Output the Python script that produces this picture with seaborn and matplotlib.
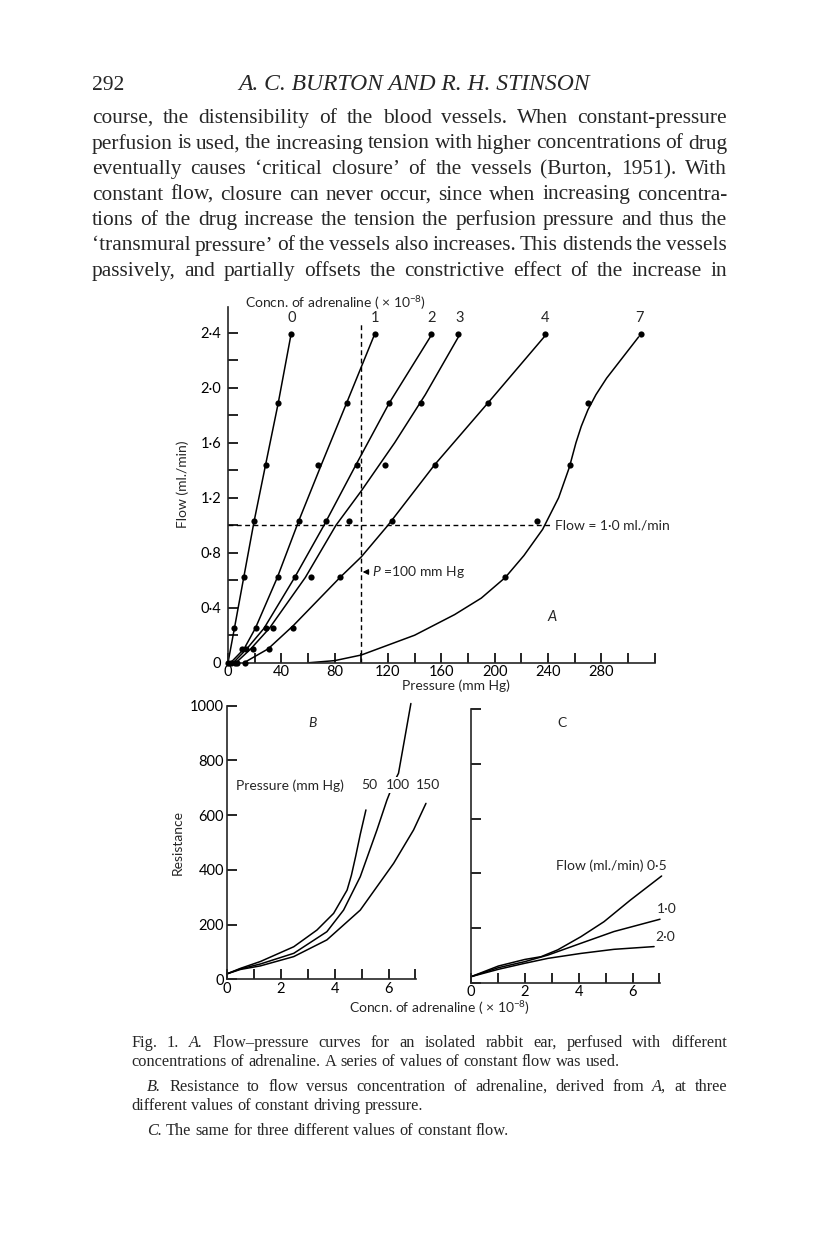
import numpy as np
import pandas as pd
import seaborn as sns
import matplotlib
matplotlib.use("Agg")
from matplotlib import pyplot as plt
from matplotlib.transforms import IdentityTransform

# ---------------- panel A: measured points (constant flow levels) ----------------
flow_levels = [0.0, 0.10, 0.25, 0.62, 1.03, 1.44, 1.89, 2.39]
press_c0 = [0, np.nan, 4.8, 11.8, 19.6, 28.2, 37.7, 47.5]
press_c1 = [2, 10.8, 20.9, 37.5, 53.1, 67.2, 89.3, 110]
press_c2 = [5, 13.8, 28.4, 50.6, 73.5, 96.4, 120.8, 152.5]
press_c3 = [7, 18.9, 34.0, 62.4, 90.6, 117.5, 144.7, 172.3]
press_c4 = [12.6, 30.7, 49.0, 84.3, 123.0, 155.5, 195.2, 237.5]
press_c7 = [np.nan, np.nan, np.nan, 208.0, 231.7, 256.4, 269.7, 309.7]
conc_labels = ["0", "1", "2", "3", "4", "7"]
conc_label_x = [48, 110, 153, 174, 238, 309]

# fitted curves of panel A (pressure, flow knots)
fit_c0_p = [0, 4.8, 11.8, 19.6, 28.2, 37.7, 47.5]
fit_c0_f = [0, 0.25, 0.62, 1.03, 1.44, 1.89, 2.40]
fit_c1_p = [2, 12, 20.5, 37, 53, 70, 89, 110]
fit_c1_f = [0, 0.10, 0.25, 0.62, 1.03, 1.44, 1.89, 2.39]
fit_c2_p = [4, 14, 27, 50, 72, 96, 121, 153]
fit_c2_f = [0, 0.10, 0.25, 0.62, 1.0, 1.44, 1.89, 2.39]
fit_c3_p = [6, 17, 31, 58, 81, 100, 125, 148, 174]
fit_c3_f = [0, 0.10, 0.25, 0.62, 1.0, 1.25, 1.60, 1.95, 2.39]
fit_c4_p = [12, 30, 49, 84, 100, 120, 155, 195, 238]
fit_c4_f = [0, 0.10, 0.27, 0.62, 0.77, 1.0, 1.44, 1.89, 2.38]
fit_c7_p = [61, 80, 100, 140, 170, 190, 208, 222, 236, 248, 256, 261, 265, 270, 276, 284, 296, 308]
fit_c7_f = [0, 0.015, 0.056, 0.20, 0.35, 0.47, 0.62, 0.78, 0.97, 1.20, 1.42, 1.60, 1.72, 1.84, 1.95, 2.07, 2.22, 2.37]

flow_ref = 1.0
press_ref = 100

# ---------------- panel B: resistance vs concentration at constant pressure ----------------
b50_c = [0, 0.5, 1.24, 2.48, 3.34, 3.96, 4.46, 4.62, 4.78, 4.95, 5.16]
b50_r = [20, 40, 65, 119, 180, 241, 326, 380, 450, 530, 619]
b100_c = [0, 0.5, 1.24, 2.48, 3.71, 4.33, 4.95, 5.57, 5.94, 6.20, 6.37, 6.60, 6.83]
b100_r = [20, 38, 56, 95, 174, 253, 375, 546, 655, 720, 753, 880, 1008]
b150_c = [0, 0.5, 1.24, 2.48, 3.71, 4.95, 6.19, 6.93, 7.39]
b150_r = [20, 36, 49, 83, 144, 253, 424, 546, 643]

# ---------------- panel C: resistance vs concentration at constant flow ----------------
c05_c = [0, 1.02, 2.0, 2.6, 3.22, 4.08, 4.94, 5.92, 7.08]
c05_r = [22, 61, 85, 95, 120, 168, 223, 302, 390]
c10_c = [0, 1.02, 2.0, 2.86, 4.08, 5.31, 7.02]
c10_r = [22, 55, 77, 101, 144, 187, 232]
c20_c = [0, 1.02, 2.0, 2.86, 4.08, 5.31, 6.8]
c20_r = [22, 49, 71, 89, 107, 122, 132]

# ---------------- page text ----------------
page_number = "292"
running_head = "A. C. BURTON AND R. H. STINSON"
body_lines = [
    "course, the distensibility of the blood vessels. When constant-pressure",
    "perfusion is used, the increasing tension with higher concentrations of drug",
    "eventually causes \u2018critical closure\u2019 of the vessels (Burton, 1951). With",
    "constant flow, closure can never occur, since when increasing concentra-",
    "tions of the drug increase the tension the perfusion pressure and thus the",
    "\u2018transmural pressure\u2019 of the vessels also increases. This distends the vessels",
    "passively, and partially offsets the constrictive effect of the increase in",
]
caption_lines = [
    ("Fig. 1. _A. Flow\u2013pressure curves for an isolated rabbit ear, perfused with different", 131, True),
    ("concentrations of adrenaline.  A series of values of constant flow was used.", 131, False),
    ("_B. Resistance to flow versus concentration of adrenaline, derived from _A, at three", 147, True),
    ("different values of constant driving pressure.", 131, False),
    ("_C. The same for three different values of constant flow.", 147, False),
]

W, H = 816, 1258
sns.set_style("ticks")
plt.rcParams["font.family"] = ["Lato", "DejaVu Sans"]
plt.rcParams["mathtext.fontset"] = "custom"
plt.rcParams["mathtext.rm"] = "Lato"
plt.rcParams["mathtext.it"] = "Lato:italic"
plt.rcParams["axes.linewidth"] = 1.2

fig = plt.figure(figsize=(W / 100, H / 100), dpi=100)


def rect(x0, y_base, w, h):
    return [x0 / W, (H - y_base) / H, w / W, h / H]


LW = 1.1
FS = 10
TICK = dict(direction="in", length=7, width=1.2, labelsize=10.5, colors="black")

# ---- panel A ----
axA = fig.add_axes(rect(228, 662.7, 426.6, 356))
pts = []
for lab, pr in zip(conc_labels, [press_c0, press_c1, press_c2, press_c3, press_c4, press_c7]):
    for p, f in zip(pr, flow_levels):
        if not np.isnan(p):
            pts.append((lab, p, f))
pts = pd.DataFrame(pts, columns=["conc", "pressure", "flow"])

fits = []
for lab, pp, ff in zip(conc_labels,
                       [fit_c0_p, fit_c1_p, fit_c2_p, fit_c3_p, fit_c4_p, fit_c7_p],
                       [fit_c0_f, fit_c1_f, fit_c2_f, fit_c3_f, fit_c4_f, fit_c7_f]):
    for p, f in zip(pp, ff):
        fits.append((lab, p, f))
fits = pd.DataFrame(fits, columns=["conc", "pressure", "flow"])

sns.lineplot(data=fits, x="pressure", y="flow", units="conc", estimator=None, sort=False,
             color="black", lw=LW, ax=axA)
sns.scatterplot(data=pts, x="pressure", y="flow", color="black", s=20, linewidth=0,
                ax=axA, legend=False, clip_on=False, zorder=3)

dash = (0, (3.5, 2.5))
axA.plot([0, 244], [flow_ref, flow_ref], color="black", lw=1.0, ls=dash)
axA.plot([press_ref, press_ref], [0, 2.48], color="black", lw=1.0, ls=dash)
axA.text(245, flow_ref, "Flow = 1\u00b70 ml./min", fontsize=FS, va="center", ha="left")
axA.annotate("$P$ =100 mm Hg", xy=(press_ref + 1, 0.66), xytext=(108, 0.66),
             fontsize=FS, va="center", ha="left",
             arrowprops=dict(arrowstyle="-|>", color="black", lw=0.9, mutation_scale=8,
                             shrinkA=0, shrinkB=0))
for lab, x in zip(conc_labels, conc_label_x):
    axA.text(x, 2.46, lab, fontsize=10.5, ha="center", va="bottom")
axA.text(81, 2.615, "Concn. of adrenaline ( \u00d7 10$^{-8}$)", fontsize=FS,
         ha="center", va="center")
axA.text(243, 0.335, "A", fontsize=10.5, ha="center", va="center", style="italic")

axA.set_xlim(0, 320)
axA.set_ylim(0, 2.59)
xt = np.arange(0, 321, 20)
axA.set_xticks(xt)
axA.set_xticklabels([str(v) if v % 40 == 0 and v <= 280 else "" for v in xt])
yt = np.round(np.arange(0, 2.41, 0.2), 1)
axA.set_yticks(yt)
axA.set_yticklabels(["0" if v == 0 else (f"{v:.1f}".replace(".", "\u00b7") if round(v * 10) % 4 == 0 else "")
                     for v in yt])
axA.tick_params(**TICK)
axA.tick_params(axis="x", pad=2)
axA.tick_params(axis="y", pad=5)
axA.set_xlabel("")
axA.set_ylabel("Flow (ml./min)", fontsize=FS, labelpad=8)
axA.text(171, -0.17, "Pressure (mm Hg)", fontsize=FS, ha="center", va="center")
sns.despine(ax=axA)

# ---- panel B ----
axB = fig.add_axes(rect(227, 979.3, 189, 273.6))
bdf = pd.DataFrame({
    "conc": b50_c + b100_c + b150_c,
    "res": b50_r + b100_r + b150_r,
    "pressure": ["50"] * len(b50_c) + ["100"] * len(b100_c) + ["150"] * len(b150_c),
})
sns.lineplot(data=bdf, x="conc", y="res", units="pressure", estimator=None, sort=False,
             color="black", lw=LW, ax=axB, clip_on=False)
axB.text(0.35, 709, "Pressure (mm Hg)", fontsize=FS, ha="left", va="center")
for lab, x in zip(["50", "100", "150"], [5.3, 6.35, 7.45]):
    axB.text(x, 709, lab, fontsize=FS, ha="center", va="center",
             bbox=dict(facecolor="white", edgecolor="none", pad=1.5))
axB.text(3.16, 935, "B", fontsize=FS, ha="center", va="center", style="italic")
axB.set_xlim(0, 7.02)
axB.set_ylim(0, 1000)
axB.set_xticks(range(0, 8))
axB.set_xticklabels(["0", "", "2", "", "4", "", "6", ""])
axB.set_yticks(range(0, 1001, 200))
axB.set_yticklabels([str(v) for v in range(0, 1001, 200)])
axB.tick_params(**TICK)
axB.tick_params(axis="x", pad=2)
axB.tick_params(axis="y", pad=2)
axB.set_xlabel("")
axB.set_ylabel("Resistance", fontsize=FS, labelpad=5)
sns.despine(ax=axB)

# ---- panel C ----
axC = fig.add_axes(rect(471, 982.7, 189, 273.6))
cdf = pd.DataFrame({
    "conc": c05_c + c10_c + c20_c,
    "res": c05_r + c10_r + c20_r,
    "flow": ["0.5"] * len(c05_c) + ["1.0"] * len(c10_c) + ["2.0"] * len(c20_c),
})
sns.lineplot(data=cdf, x="conc", y="res", units="flow", estimator=None, sort=False,
             color="black", lw=LW, ax=axC, clip_on=False)
axC.text(3.15, 428, "Flow (ml./min) 0\u00b75", fontsize=FS, ha="left", va="center")
axC.text(7.27, 270, "1\u00b70", fontsize=FS, ha="center", va="center")
axC.text(7.2, 166, "2\u00b70", fontsize=FS, ha="center", va="center")
axC.text(3.38, 949, "C", fontsize=FS, ha="center", va="center")
axC.set_xlim(0, 7.02)
axC.set_ylim(0, 1000)
axC.set_xticks(range(0, 8))
axC.set_xticklabels(["0", "", "2", "", "4", "", "6", ""])
axC.set_yticks(range(0, 1001, 200))
axC.set_yticklabels([])
axC.tick_params(**TICK)
axC.tick_params(axis="x", pad=2)
axC.set_xlabel("")
axC.set_ylabel("")
sns.despine(ax=axC)

fig.text(440 / W, 1 - 1008 / H, "Concn. of adrenaline ( \u00d7 10$^{-8}$)", fontsize=FS,
         ha="center", va="center")

# ---------------- page text (justified) ----------------
renderer = fig.canvas.get_renderer()
SERIF = ["Liberation Serif", "DejaVu Serif"]


def measure(s, size, style="normal"):
    t = fig.text(0, 0, s, fontsize=size, family=SERIF, style=style, transform=IdentityTransform())
    w = t.get_window_extent(renderer).width
    t.remove()
    return w


def split_words(text):
    return [(w[1:], "italic") if w.startswith("_") else (w, "normal") for w in text.split()]


def fit_size(lines, width, size):
    # one size for a whole block, small enough that every line fits with tight spacing
    best = size
    for text, x0 in lines:
        words = split_words(text)
        space = measure("a a", size) - measure("aa", size)
        natural = sum(measure(w, size, st) for w, st in words) + space * 0.75 * (len(words) - 1)
        avail = width - x0
        if natural > avail:
            best = min(best, size * avail / natural)
    return best


def put_line(text, x0, x1, y, size, justify):
    words = split_words(text)
    space = measure("a a", size) - measure("aa", size)
    widths = [measure(w, size, st) for w, st in words]
    if justify and len(words) > 1:
        gap = (x1 - x0 - sum(widths)) / (len(words) - 1)
    else:
        gap = space
    x = x0
    for (w, st), wd in zip(words, widths):
        fig.text(x, H - y, w, fontsize=size, family=SERIF, style=st,
                 va="baseline", ha="left", transform=IdentityTransform())
        x += wd + gap


fig.text(92, H - 90, page_number, fontsize=15.5, family=SERIF, va="baseline",
         transform=IdentityTransform())
fig.text(414, H - 90, running_head, fontsize=17, family=SERIF, style="italic",
         va="baseline", ha="center", transform=IdentityTransform())

body_size = fit_size([(l, 92) for l in body_lines], 727, 15.5)
body_y = [123, 148.5, 174, 199.5, 225, 250.5, 276]
for line, y in zip(body_lines, body_y):
    put_line(line, 92, 727, y, body_size, True)

cap_size = fit_size([(l, x0) for l, x0, j in caption_lines if j], 727, 11.8)
cap_y = [1047, 1066, 1091, 1110, 1135]
for (line, x0, just), y in zip(caption_lines, cap_y):
    put_line(line, x0, 727, y, cap_size, just)

fig.savefig("out.png", dpi=100)
